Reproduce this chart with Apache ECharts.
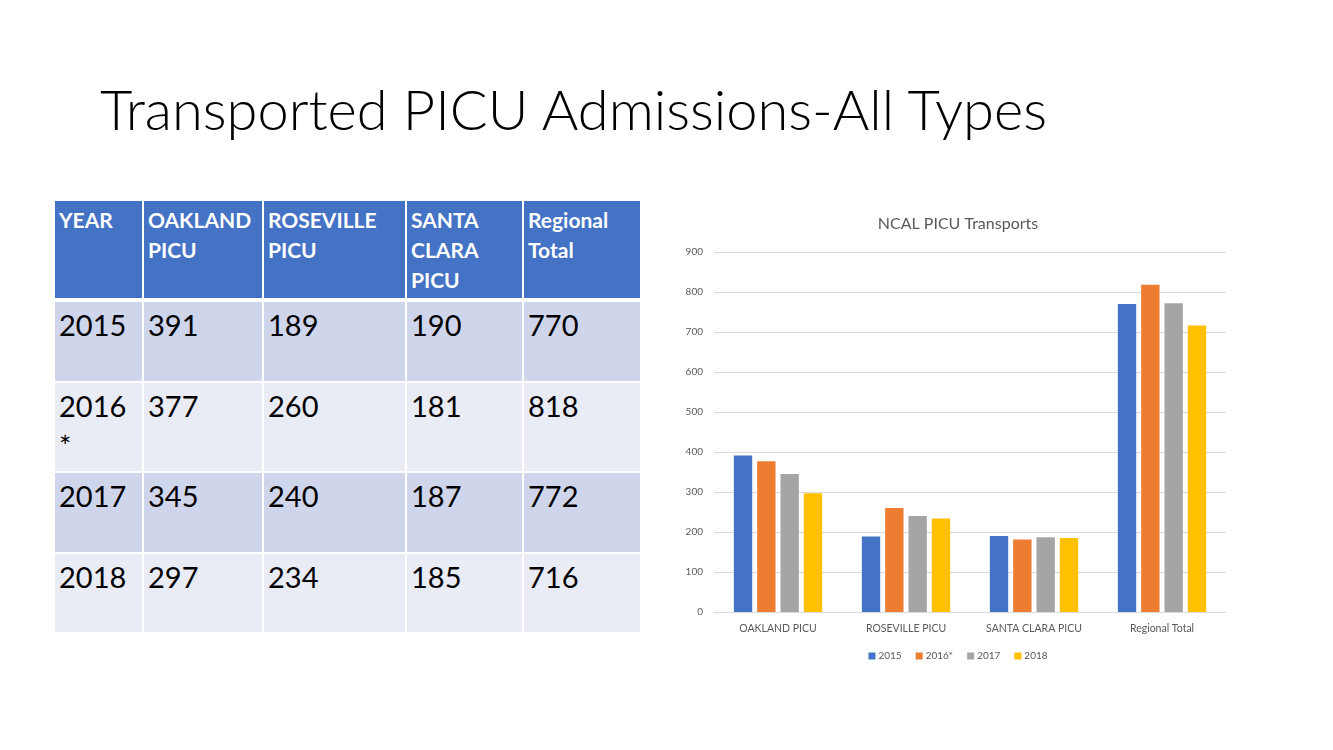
<!DOCTYPE html>
<html>
<head>
<meta charset="utf-8">
<script src="https://cdn.jsdelivr.net/npm/echarts@6/dist/echarts.min.js"></script>
<style>
  html, body { margin: 0; padding: 0; background: #fff; width: 1333px; height: 750px; overflow: hidden; }
  #title { position: absolute; left: 100px; top: 71px; margin: 0; font-family: Lato, "Open Sans", sans-serif; font-weight: 300; font-size: 56px; color: #000; white-space: nowrap; line-height: 76px; }
  #tbl { position: absolute; left: 53px; top: 199px; border-collapse: collapse; table-layout: fixed; font-family: Lato, "Noto Sans", sans-serif; }
  #tbl td, #tbl th { border: 2px solid #fff; vertical-align: top; text-align: left; padding: 0 0 0 4px; overflow: hidden; }
  #tbl th { background: #4472C4; color: #fff; font-weight: 700; font-size: 21px; line-height: 30px; padding-top: 4px; border-bottom-width: 4px; height: 93px; }
  #tbl td { font-size: 29px; line-height: 40px; color: #000; padding-top: 3px; }
  #tbl tr.odd td { background: #CFD5EA; }
  #tbl tr.even td { background: #E9EBF5; }
  #chart { position: absolute; left: 658px; top: 190px; width: 600px; height: 500px; }
</style>
</head>
<body>
<h1 id="title"></h1>
<table id="tbl"></table>
<div id="chart"></div>
<script>
const slideTitle = "Transported PICU Admissions-All Types";
const chartTitle = "NCAL PICU Transports";
const tableHeaders = ["YEAR", "OAKLAND<br>PICU", "ROSEVILLE<br>PICU", "SANTA<br>CLARA<br>PICU", "Regional<br>Total"];
const tableYears = ["2015", "2016<br>*", "2017", "2018"];
const categories = ["OAKLAND PICU", "ROSEVILLE PICU", "SANTA CLARA PICU", "Regional Total"];
const seriesNames = ["2015", "2016*", "2017", "2018"];
const values2015 = [391, 189, 190, 770];
const values2016 = [377, 260, 181, 818];
const values2017 = [345, 240, 187, 772];
const values2018 = [297, 234, 185, 716];
const yTicks = [0, 100, 200, 300, 400, 500, 600, 700, 800, 900];
const colors = ["#4472C4", "#ED7D31", "#A5A5A5", "#FFC000"];

document.getElementById('title').textContent = slideTitle;

// Build table from the data arrays
const colWidths = [89, 120, 143, 117, 118];
const rowHeights = [82, 90, 81, 80];
const allValues = [values2015, values2016, values2017, values2018];
let html = '<colgroup>' + colWidths.map(w => '<col style="width:' + w + 'px">').join('') + '</colgroup>';
html += '<tr>' + tableHeaders.map(h => '<th>' + h + '</th>').join('') + '</tr>';
tableYears.forEach((y, i) => {
  html += '<tr class="' + (i % 2 === 0 ? 'odd' : 'even') + '" style="height:' + rowHeights[i] + 'px">';
  html += '<td>' + y + '</td>';
  allValues[i].forEach(v => { html += '<td>' + v + '</td>'; });
  html += '</tr>';
});
document.getElementById('tbl').innerHTML = html;

const chart = echarts.init(document.getElementById('chart'));
const seriesData = [values2015, values2016, values2017, values2018];
chart.setOption({
  animation: false,
  color: colors,
  textStyle: { fontFamily: 'Lato, "Noto Sans", sans-serif' },
  title: {
    text: chartTitle, left: 'center', top: 21,
    textStyle: { color: '#595959', fontSize: 16, fontWeight: 'normal', fontFamily: 'Lato, "Noto Sans", sans-serif' }
  },
  legend: {
    data: seriesNames, bottom: 24, left: 'center', icon: 'rect', itemWidth: 7, itemHeight: 7, itemGap: 14,
    textStyle: { color: '#595959', fontSize: 10, padding: [0, 0, 0, -2] }
  },
  grid: { left: 56, right: 32, top: 62, bottom: 78 },
  xAxis: {
    type: 'category', data: categories,
    axisTick: { show: false },
    axisLine: { lineStyle: { color: '#D9D9D9', width: 1 } },
    axisLabel: { color: '#595959', fontSize: 10.5, margin: 11 }
  },
  yAxis: {
    type: 'value', min: yTicks[0], max: yTicks[yTicks.length - 1], interval: 100,
    axisLine: { show: false }, axisTick: { show: false },
    splitLine: { lineStyle: { color: '#D9D9D9', width: 1 } },
    axisLabel: { color: '#595959', fontSize: 10, margin: 11 }
  },
  series: seriesNames.map((n, i) => ({
    name: n, type: 'bar', data: seriesData[i],
    barGap: '27%', barCategoryGap: '31%'
  }))
});
</script>
</body>
</html>
